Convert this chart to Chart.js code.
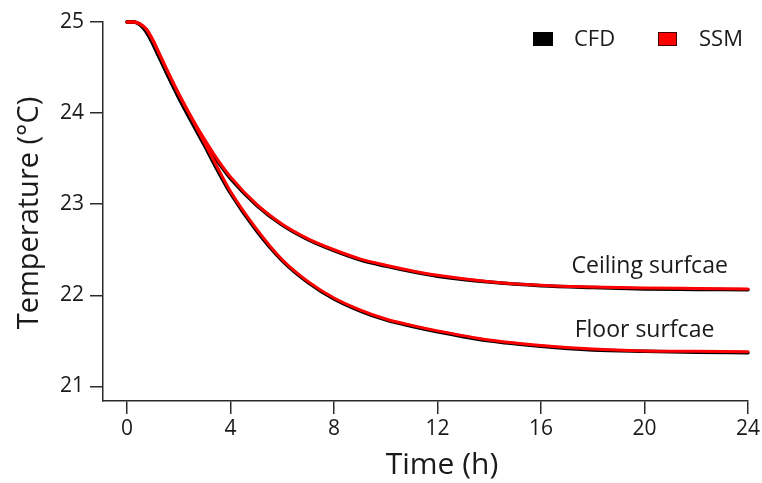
<!DOCTYPE html>
<html>
<head>
<meta charset="utf-8">
<script src="https://cdn.jsdelivr.net/npm/chart.js@4"></script>
<style>
  html, body { margin: 0; padding: 0; background: #fff; }
  #wrap { width: 762px; height: 483px; }
</style>
</head>
<body>
<div id="wrap"><canvas id="tempChart" width="762" height="483"></canvas></div>
<script>
// time axis (h) and temperatures (°C)
const hours = [0, 0.25, 0.5, 0.75, 1, 1.25, 1.5, 2, 2.5, 3, 3.5, 4, 5, 6, 7, 8, 9, 10, 11, 12, 14, 16, 18, 20, 22, 24];

const ceilingSSM = [25.00, 25.00, 24.98, 24.92, 24.80, 24.65, 24.50, 24.21, 23.95, 23.71, 23.49, 23.30, 23.00, 22.78, 22.62, 22.50, 22.40, 22.33, 22.27, 22.22, 22.15, 22.11, 22.09, 22.08, 22.075, 22.07];
const ceilingCFD = [25.00, 25.00, 24.97, 24.89, 24.76, 24.61, 24.46, 24.17, 23.91, 23.68, 23.47, 23.28, 22.99, 22.77, 22.61, 22.49, 22.39, 22.32, 22.26, 22.21, 22.145, 22.105, 22.085, 22.07, 22.065, 22.06];
const floorSSM = [25.00, 25.00, 24.98, 24.92, 24.80, 24.65, 24.50, 24.21, 23.94, 23.67, 23.40, 23.14, 22.73, 22.39, 22.15, 21.97, 21.84, 21.74, 21.67, 21.61, 21.51, 21.45, 21.41, 21.39, 21.385, 21.38];
const floorCFD = [25.00, 25.00, 24.97, 24.89, 24.76, 24.61, 24.46, 24.17, 23.90, 23.64, 23.37, 23.12, 22.71, 22.38, 22.14, 21.96, 21.83, 21.73, 21.66, 21.60, 21.50, 21.44, 21.40, 21.385, 21.375, 21.37];

const xTicks = [0, 4, 8, 12, 16, 20, 24];
const yTicks = [21, 22, 23, 24, 25];

const seriesNames = ['CFD', 'SSM'];
const curveLabels = ['Ceiling surfcae', 'Floor surfcae'];

const FONT = '"Open Sans", "DejaVu Sans", sans-serif';
const INK = '#1a1a1a';

const toPoints = vals => hours.map((h, i) => ({ x: h, y: vals[i] }));

const line = (label, vals, color, width, order) => ({
  label: label,
  data: toPoints(vals),
  borderColor: color,
  borderWidth: width,
  pointRadius: 0,
  fill: false,
  cubicInterpolationMode: 'monotone',
  borderCapStyle: 'round',
  borderJoinStyle: 'round',
  clip: 6,
  order: order
});

// legend, curve labels and axis titles
const decorations = {
  id: 'decorations',
  afterDraw(chart) {
    const ctx = chart.ctx;
    const xs = chart.scales.x, ys = chart.scales.y;
    ctx.save();

    // legend
    ctx.font = '22px ' + FONT;
    ctx.textBaseline = 'middle';
    ctx.textAlign = 'left';
    ctx.fillStyle = '#000';
    ctx.fillRect(533, 32, 20, 14);
    ctx.fillStyle = INK;
    ctx.fillText(seriesNames[0], 574, 40);
    ctx.fillStyle = '#ff0000';
    ctx.fillRect(658, 32, 19, 14);
    ctx.strokeStyle = '#400';
    ctx.lineWidth = 1;
    ctx.strokeRect(658.5, 32.5, 18, 13);
    ctx.fillStyle = INK;
    ctx.fillText(seriesNames[1], 699, 40);

    // curve labels
    ctx.font = '23px ' + FONT;
    ctx.textAlign = 'center';
    ctx.textBaseline = 'alphabetic';
    ctx.fillText(curveLabels[0], xs.getPixelForValue(20.2), ys.getPixelForValue(22.25));
    ctx.fillText(curveLabels[1], xs.getPixelForValue(20.0), ys.getPixelForValue(21.54));

    // axis titles
    ctx.font = '30px ' + FONT;
    ctx.textBaseline = 'middle';
    ctx.fillText('Time (h)', 442, 465);
    ctx.font = '29px ' + FONT;
    ctx.translate(30, 213);
    ctx.rotate(-Math.PI / 2);
    ctx.fillText('Temperature (°C)', 0, 0);

    ctx.restore();
  }
};

new Chart(document.getElementById('tempChart'), {
  type: 'line',
  data: {
    datasets: [
      line(seriesNames[0], ceilingCFD, '#000000', 3.5, 2),
      line(seriesNames[0], floorCFD, '#000000', 3.5, 2),
      line(seriesNames[1], ceilingSSM, '#ff0000', 3, 1),
      line(seriesNames[1], floorSSM, '#ff0000', 3, 1)
    ]
  },
  options: {
    responsive: false,
    animation: false,
    layout: { padding: { top: 22, right: 14, left: 0, bottom: 0 } },
    plugins: {
      legend: { display: false },
      tooltip: { enabled: false }
    },
    scales: {
      x: {
        type: 'linear',
        min: -0.93,
        max: 24,
        afterBuildTicks: s => { s.ticks = xTicks.map(v => ({ value: v })); },
        afterFit: s => { s.height = 82; },
        ticks: { color: INK, font: { family: FONT, size: 21 }, padding: 2, maxRotation: 0 },
        grid: { drawOnChartArea: false, drawTicks: true, tickLength: 13, color: '#2a2a2a', lineWidth: 1.5 },
        border: { display: true, color: '#2a2a2a', width: 1.5 }
      },
      y: {
        type: 'linear',
        min: 20.84,
        max: 25,
        afterBuildTicks: s => { s.ticks = yTicks.map(v => ({ value: v })); },
        afterFit: s => { s.width = 103; },
        ticks: { color: INK, font: { family: FONT, size: 21 }, padding: 6 },
        grid: { drawOnChartArea: false, drawTicks: true, tickLength: 13, color: '#2a2a2a', lineWidth: 1.5 },
        border: { display: true, color: '#2a2a2a', width: 1.5 }
      }
    }
  },
  plugins: [decorations]
});
</script>
</body>
</html>
